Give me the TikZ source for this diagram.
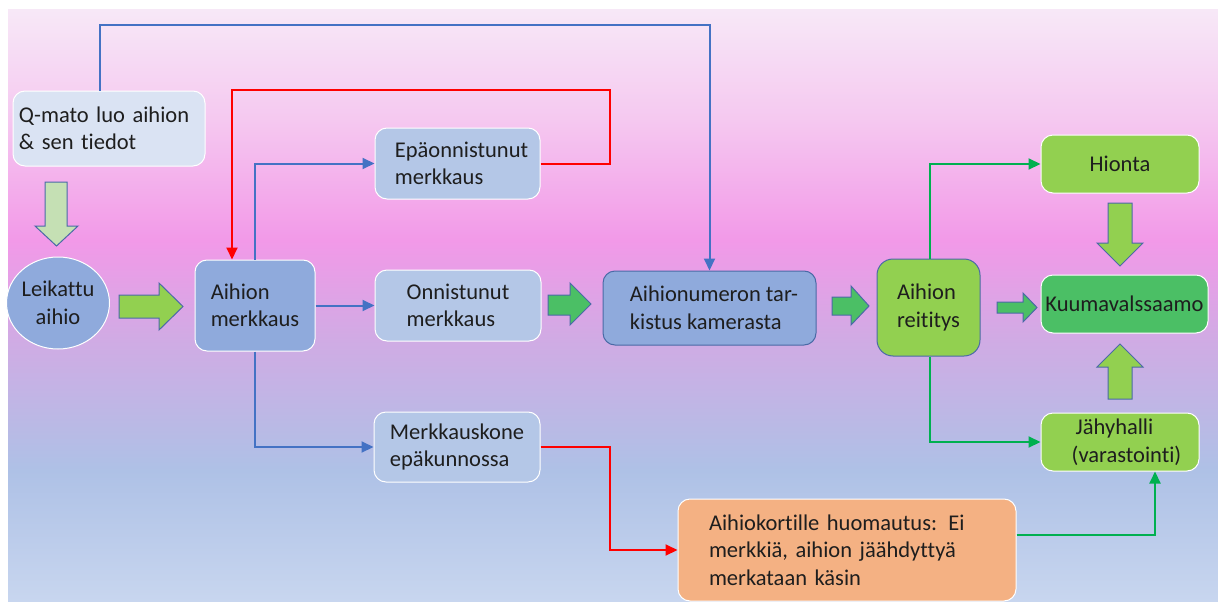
\documentclass[tikz,border=0pt]{standalone}
\usepackage{fontspec}
\setmainfont{Carlito}[Ligatures={NoCommon,TeX}]
\usetikzlibrary{shapes.geometric,arrows.meta}
\definecolor{gA}{HTML}{F7E8F7}
\definecolor{gB}{HTML}{F5C8F0}
\definecolor{gC}{HTML}{F299E8}
\definecolor{gD}{HTML}{D0ABE4}
\definecolor{gE}{HTML}{AEC1E6}
\definecolor{gF}{HTML}{C8D6EF}
\definecolor{cQ}{HTML}{DAE3F3}
\definecolor{cMid}{HTML}{8FAADC}
\definecolor{cLight}{HTML}{B4C7E7}
\definecolor{cGreen}{HTML}{92D050}
\definecolor{cDark}{HTML}{4BBF65}
\definecolor{cPale}{HTML}{C5E0B4}
\definecolor{cOrange}{HTML}{F4B183}
\definecolor{cEdge}{HTML}{4A6AA6}
\definecolor{cBlue}{HTML}{4472C4}
\definecolor{cRed}{HTML}{FF0000}
\definecolor{cGreenLine}{HTML}{00B050}
\definecolor{cText}{HTML}{1E1E1E}
\begin{document}
\begin{tikzpicture}[x=1pt,y=-1pt,
  box/.style={draw=white, line width=1pt, rounded corners=12pt, align=left,
    text=cText, font=\fontsize{22.5pt}{27.5pt}\selectfont, inner ysep=0pt},
  conn/.style={line width=2pt, -{Triangle[length=12pt,width=11pt]}},
  barrow/.style={draw=cEdge, line width=1pt}]
\useasboundingbox (0,0) rectangle (1218,602);
\fill[white] (0,0) rectangle (1218,602);
% background gradient
\shade[top color=gA, bottom color=gB] (8,10) rectangle (1218,121);
\shade[top color=gB, bottom color=gC] (8,120) rectangle (1218,241);
\shade[top color=gC, bottom color=gD] (8,240) rectangle (1218,341);
\shade[top color=gD, bottom color=gE] (8,340) rectangle (1218,471);
\shade[top color=gE, bottom color=gF] (8,470) rectangle (1218,602);

% nodes
\node[box, fill=cQ, minimum height=75pt, text width=180pt, inner xsep=6pt] (q) at (109,128.5)
  {Q-mato luo aihion\\\& sen tiedot};
\node[ellipse, draw=white, line width=1pt, fill=cMid, minimum width=98pt, minimum height=92pt,
  inner sep=0pt, align=center, text=cText, font=\fontsize{22.5pt}{27.5pt}\selectfont] (leik) at (58,303)
  {Leikattu\\aihio};
\node[box, fill=cMid, minimum width=120pt, minimum height=91pt, inner xsep=0pt] (merk) at (255,305.5)
  {Aihion\\merkkaus};
\node[box, fill=cLight, minimum width=165pt, minimum height=71pt, inner xsep=0pt] (fail) at (457.5,163.5)
  {\hspace*{8pt}Epäonnistunut\\\hspace*{8pt}merkkaus};
\node[box, fill=cLight, minimum width=166pt, minimum height=71pt, inner xsep=0pt] (onn) at (458,305.5)
  {Onnistunut\\merkkaus};
\node[box, fill=cLight, minimum width=166pt, minimum height=70pt, inner xsep=0pt] (broken) at (457,447)
  {Merkkauskone\\epäkunnossa};
\node[box, fill=cMid, draw=cEdge, minimum width=213pt, minimum height=74pt, inner xsep=0pt] (cam) at (709.5,308)
  {\hspace*{9pt}Aihionumeron tar-\\\hspace*{9pt}kistus kamerasta};
\node[box, fill=cGreen, draw=cEdge, rounded corners=16pt, minimum width=103pt, minimum height=97pt, inner xsep=0pt] (reit) at (928.5,307.5)
  {Aihion\\reititys};
\node[box, fill=cGreen, minimum width=158pt, minimum height=58pt, inner xsep=0pt] (hionta) at (1120,164)
  {Hionta};
\node[box, fill=cDark, minimum width=167pt, minimum height=58pt, inner xsep=0pt] (kuuma) at (1124.5,304)
  {Kuumavalssaamo};
\node[box, fill=cGreen, minimum width=158pt, minimum height=58pt, inner xsep=0pt] (jahy) at (1120,442)
  {\hspace*{17pt}Jähyhalli\\\hspace*{13pt}(varastointi)};
\node[box, fill=cOrange, minimum height=102pt, text width=276pt, inner xsep=31pt] (note) at (847,550)
  {Aihiokortille huomautus: Ei\\merkkiä, aihion jäähdyttyä\\merkataan käsin};

% block arrows
\filldraw[barrow, fill=cPale] (45,182) -- (67,182) -- (67,226) -- (78,226) -- (56.5,246) -- (35,226) -- (45,226) -- cycle;
\filldraw[barrow, fill=cGreen] (119,295) -- (159,295) -- (159,283) -- (183,306.5) -- (159,330) -- (159,318) -- (119,318) -- cycle;
\filldraw[barrow, fill=cDark] (548,295) -- (570,295) -- (570,283) -- (591,304) -- (570,325) -- (570,315) -- (548,315) -- cycle;
\filldraw[barrow, fill=cDark] (832,297) -- (851,297) -- (851,286) -- (869,306) -- (851,325) -- (851,315) -- (832,315) -- cycle;
\filldraw[barrow, fill=cDark] (997,302) -- (1023,302) -- (1023,293) -- (1037,307.5) -- (1023,322) -- (1023,313) -- (997,313) -- cycle;
\filldraw[barrow, fill=cGreen] (1108,203) -- (1132,203) -- (1132,243) -- (1143,243) -- (1120,266) -- (1097,243) -- (1108,243) -- cycle;
\filldraw[barrow, fill=cGreen] (1108,399) -- (1132,399) -- (1132,367) -- (1143,367) -- (1120,344) -- (1097,367) -- (1108,367) -- cycle;

% connectors
\draw[conn, cBlue] ([xshift=-9pt]q.north) -- ++(0,-65) -| (cam.north);
\draw[conn, cRed] (fail.east) -| (610,90) -| ([xshift=-23pt]merk.north);
\draw[conn, cBlue] (merk.north) |- (fail.west);
\draw[conn, cBlue] (merk.east) -- (onn.west);
\draw[conn, cBlue] (merk.south) |- (broken.west);
\draw[conn, cRed] (broken.east) -- ++(69,0) |- (note.west);
\draw[conn, cGreenLine] ([xshift=1.5pt]reit.north) |- (hionta.west);
\draw[conn, cGreenLine] ([xshift=1.5pt]reit.south) |- (jahy.west);
\draw[conn, cGreenLine] ([yshift=15pt]note.east) -| ([xshift=35pt]jahy.south);
\end{tikzpicture}
\end{document}
